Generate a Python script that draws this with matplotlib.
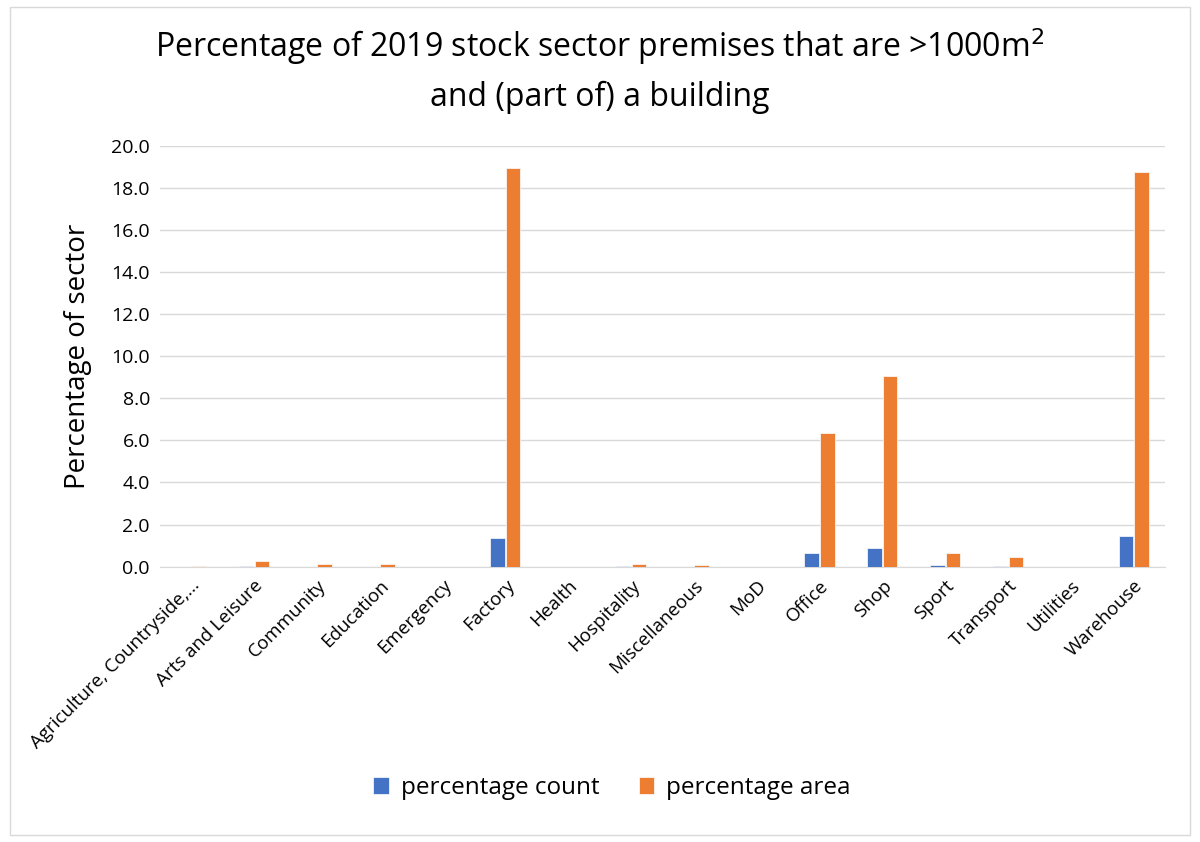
import matplotlib.pyplot as plt
import numpy as np
from matplotlib.patches import Rectangle

sectors = ['Agriculture, Countryside,...', 'Arts and Leisure', 'Community', 'Education',
           'Emergency', 'Factory', 'Health', 'Hospitality', 'Miscellaneous', 'MoD',
           'Office', 'Shop', 'Sport', 'Transport', 'Utilities', 'Warehouse']
pct_count = [0.0, 0.02, 0.0, 0.0, 0.0, 1.38, 0.0, 0.01, 0.0, 0.0,
             0.65, 0.9, 0.07, 0.02, 0.0, 1.47]
pct_area = [0.05, 0.25, 0.15, 0.15, 0.0, 18.95, 0.0, 0.15, 0.1, 0.0,
            6.37, 9.07, 0.65, 0.47, 0.0, 18.77]

plt.rcParams['font.family'] = ['Open Sans', 'DejaVu Sans']

fig = plt.figure(figsize=(12, 8.42), dpi=100)
ax = fig.add_axes([0.133, 0.327, 0.838, 0.5])

x = np.arange(len(sectors))
w = 0.23
ax.bar(x - 0.125, pct_count, w, color='#4472C4', edgecolor='white', linewidth=0.5,
       label='percentage count', zorder=3)
ax.bar(x + 0.125, pct_area, w, color='#ED7D31', edgecolor='white', linewidth=0.5,
       label='percentage area', zorder=3)

ax.set_xlim(-0.5, len(sectors) - 0.5)
ax.set_ylim(0, 20)
ax.set_yticks(np.arange(0, 21, 2))
ax.set_yticklabels([f'{v:.1f}' for v in np.arange(0, 21, 2)], fontsize=14)
ax.yaxis.grid(True, color='#D9D9D9', linewidth=1, zorder=0)
ax.set_xticks(x)
ax.set_xticklabels(sectors, rotation=45, ha='right', rotation_mode='anchor', fontsize=13.5)
ax.tick_params(axis='both', length=0, pad=7)
for s in ['top', 'right', 'left']:
    ax.spines[s].set_visible(False)
ax.spines['bottom'].set_color('#D9D9D9')

ax.set_ylabel('Percentage of sector', fontsize=20, labelpad=14)

fig.text(0.5, 0.945, 'Percentage of 2019 stock sector premises that are >1000m$^2$',
         ha='center', va='center', fontsize=23)
fig.text(0.5, 0.884, 'and (part of) a building', ha='center', va='center', fontsize=23)

fig.legend(loc='center', bbox_to_anchor=(0.51, 0.064), ncol=2, frameon=False,
           fontsize=17.5, handlelength=0.65, handleheight=0.65, handletextpad=0.5,
           columnspacing=1.6)

fig.patches.append(Rectangle((0.008, 0.008), 0.984, 0.984, transform=fig.transFigure,
                             fill=False, edgecolor='#D9D9D9', linewidth=1))

fig.savefig('out.png', dpi=100)
